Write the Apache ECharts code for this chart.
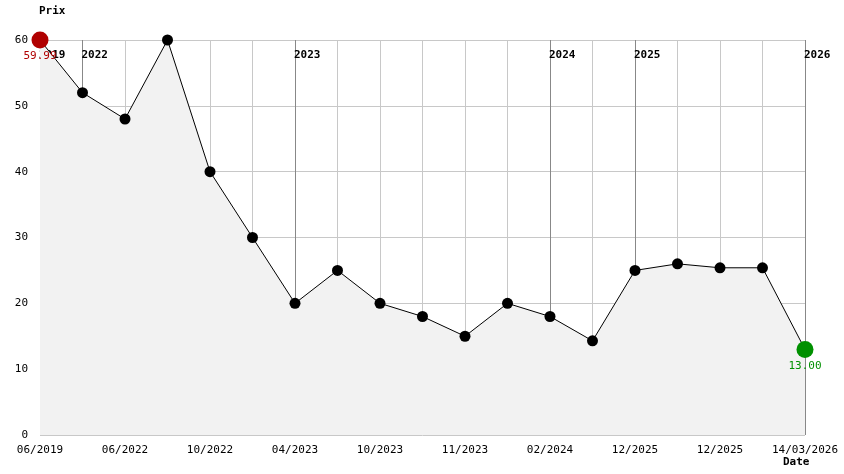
<!DOCTYPE html>
<html>
<head>
<meta charset="utf-8">
<script src="https://cdn.jsdelivr.net/npm/echarts@6/dist/echarts.min.js"></script>
<style>html,body{margin:0;padding:0;background:#fff}#c{width:844px;height:474px}</style>
</head>
<body>
<div id="c"></div>
<script>
var dates = ['06/2019','','06/2022','','10/2022','','04/2023','','10/2023','','11/2023','','02/2024','','12/2025','','12/2025','','14/03/2026'];
var prices = [59.99, 52, 48, 60, 40, 30, 20, 25, 20, 18, 15, 20, 18, 14.3, 25, 26, 25.4, 25.4, 13];
var yearIdx = [0, 1, 6, 12, 14, 18];
var yearNames = ['2019', '2022', '2023', '2024', '2025', '2026'];

var font = 'DejaVu Sans Mono';
var chart = echarts.init(document.getElementById('c'));

var pts = prices.map(function (v, i) {
  if (i === 0) return { value: v, symbolSize: 17, itemStyle: { color: '#b00000' },
    label: { show: true, position: 'bottom', formatter: '59.99', color: '#b00000', distance: 2 } };
  if (i === prices.length - 1) return { value: v, symbolSize: 17, itemStyle: { color: '#009000' },
    label: { show: true, position: 'bottom', formatter: '13.00', color: '#009000', distance: 3 } };
  return v;
});

var yearLines = yearIdx.map(function (x, i) {
  return { xAxis: x, label: { formatter: yearNames[i] } };
});

chart.setOption({
  animation: false,
  textStyle: { fontFamily: font, fontSize: 11 },
  grid: { left: 40, right: 39, top: 40, bottom: 39 },
  xAxis: {
    type: 'category', boundaryGap: false, data: dates,
    axisLine: { show: false }, axisTick: { show: false },
    axisLabel: { interval: 0, color: '#000', fontFamily: font, fontSize: 11, margin: 10 },
    splitLine: { show: true, interval: 0, lineStyle: { color: '#c8c8c8', width: 1 } }
  },
  yAxis: {
    type: 'value', min: 0, max: 60, interval: 10,
    axisLine: { show: false }, axisTick: { show: false },
    axisLabel: { color: '#000', fontFamily: font, fontSize: 11, margin: 12 },
    splitLine: { show: true, lineStyle: { color: '#c8c8c8', width: 1 } }
  },
  series: [{
    type: 'line', data: pts, symbol: 'circle', symbolSize: 11,
    itemStyle: { color: '#000' }, lineStyle: { color: '#000', width: 1 },
    areaStyle: { color: '#f2f2f2', opacity: 1 },
    z: 3,
    markLine: {
      silent: true, symbol: 'none', z: 1,
      lineStyle: { color: '#888', type: 'solid', width: 1 },
      label: { position: 'insideEndBottom', color: '#000', fontWeight: 'bold', fontFamily: font, fontSize: 11,
        rotate: 0, align: 'left', offset: [4, 5] },
      data: yearLines
    }
  }],
  graphic: [
    { type: 'text', left: 39, top: 6, style: { text: 'Prix', fill: '#000', font: 'bold 11px ' + font } },
    { type: 'text', left: 783, top: 457, style: { text: 'Date', fill: '#000', font: 'bold 11px ' + font } },
    { type: 'text', left: 50, top: 380, style: { text: 'Initial : 59.99', fill: '#000', font: '11px ' + font } },
    { type: 'text', left: 50, top: 394, style: { text: 'Mini : 13.00', fill: '#009000', font: '11px ' + font } },
    { type: 'text', left: 50, top: 408, style: { text: 'Max : 59.99', fill: '#c00000', font: '11px ' + font } },
    { type: 'text', left: 50, top: 422, style: { text: 'Actuel : 13.00', fill: '#000', font: '11px ' + font } }
  ]
});
</script>
</body>
</html>
